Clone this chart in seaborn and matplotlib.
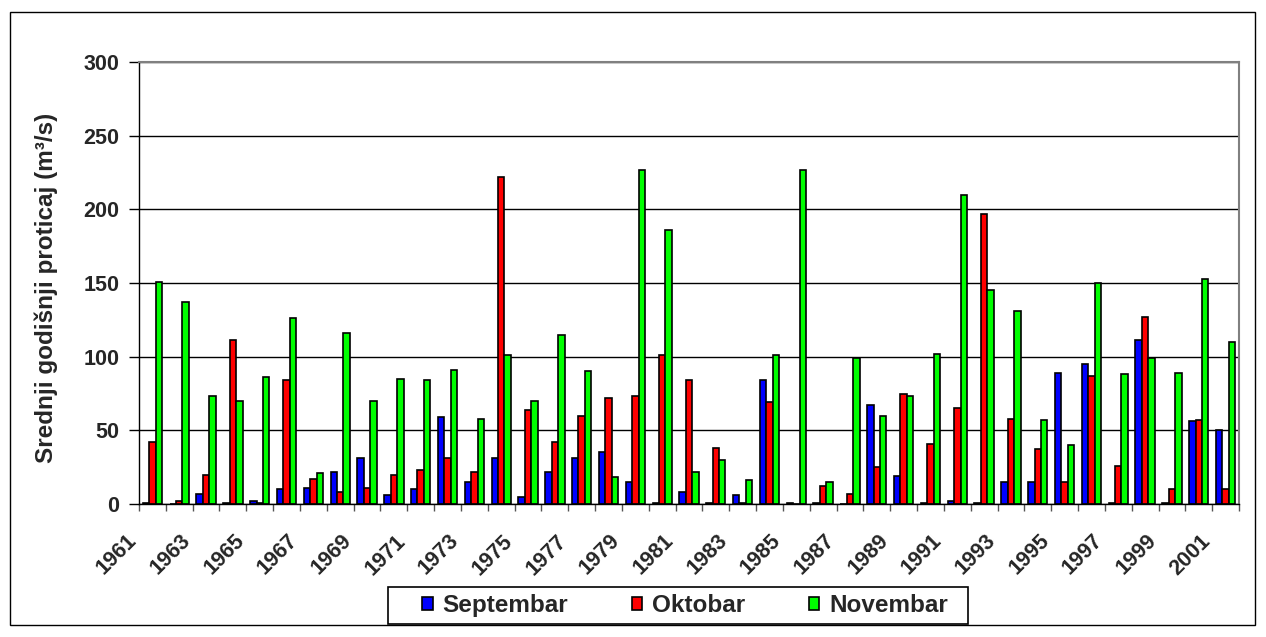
import numpy as np
import pandas as pd
import matplotlib
matplotlib.use('Agg')
import matplotlib.pyplot as plt
import seaborn as sns
from matplotlib.patches import Rectangle
from matplotlib.transforms import ScaledTranslation


years = list(range(1961, 2002))
septembar = [1, 0, 7, 1, 2, 10, 11, 22, 31, 6,
             10, 59, 15, 31, 5, 22, 31, 35, 15, 1,
             8, 1, 6, 84, 1, 1, 0, 67, 19, 1,
             2, 1, 15, 15, 89, 95, 1, 111, 1, 56,
             50]
oktobar = [42, 2, 20, 111, 1, 84, 17, 8, 11, 20,
           23, 31, 22, 222, 64, 42, 60, 72, 73, 101,
           84, 38, 1, 69, 0, 12, 7, 25, 75, 41,
           65, 197, 58, 37, 15, 87, 26, 127, 10, 57,
           10]
novembar = [151, 137, 73, 70, 86, 126, 21, 116, 70, 85,
            84, 91, 58, 101, 70, 115, 90, 18, 227, 186,
            22, 30, 16, 101, 227, 15, 99, 60, 73, 102,
            210, 145, 131, 57, 40, 150, 88, 99, 89, 153,
            110]
months = ['Septembar', 'Oktobar', 'Novembar']
colors = ['#0000FF', '#FF0000', '#00FF00']

sns.set_theme(style='white')
plt.rcParams['font.family'] = ['Liberation Sans', 'DejaVu Sans']
plt.rcParams['font.weight'] = 'bold'

W, H = 1266, 637

df = pd.DataFrame({
    'year': [str(y) for y in years] * 3,
    'month': np.repeat(months, len(years)),
    'value': septembar + oktobar + novembar,
})

fig = plt.figure(figsize=(W / 100, H / 100), dpi=100)
left, right, top, bottom = 139, 1239, 62, 504
ax = fig.add_axes([left / W, 1 - bottom / H, (right - left) / W, (bottom - top) / H])

sns.barplot(data=df, x='year', y='value', hue='month', hue_order=months,
            palette=colors, edgecolor='black', linewidth=1.2, width=0.72,
            saturation=1, ax=ax)

handles, labels = ax.get_legend_handles_labels()
if ax.legend_ is not None:
    ax.legend_.remove()

ax.set_xlim(-0.5, len(years) - 0.5)
ax.set_ylim(0, 300)
ax.set_yticks(range(0, 301, 50))
ax.yaxis.grid(True, color='black', linewidth=1)
ax.set_axisbelow(True)

ax.set_xticks(np.arange(-0.5, len(years), 1), minor=True)
ax.tick_params(axis='x', which='major', length=0, pad=19)
ax.tick_params(axis='x', which='minor', length=5, width=1, color='#555555', direction='out', bottom=True)
ax.tick_params(axis='y', length=7, width=1, color='black', direction='out', left=True,
               labelsize=15.5, pad=7)
for lab in ax.get_yticklabels():
    lab.set_fontweight('bold')

ax.set_xticks(range(0, len(years), 2))
ax.set_xticklabels([str(y) for y in years[::2]], rotation=45, ha='right', va='top',
                   rotation_mode='anchor', fontsize=15.5, fontweight='bold')

ax.set_xlabel('')
ax.set_ylabel('Srednji godišnji proticaj (m³/s)', fontsize=17.5, fontweight='bold')
ax.yaxis.set_label_coords((58 - left) / (right - left), 0.49)

for side in ['top', 'right']:
    ax.spines[side].set_color('#808080')
    ax.spines[side].set_linewidth(1.5)
for side in ['left', 'bottom']:
    ax.spines[side].set_color('black')
    ax.spines[side].set_linewidth(1)

# chart area border
fig.patches.append(Rectangle((10 / W, 12 / H), 1245 / W, 613 / H,
                             transform=fig.transFigure, fill=False,
                             edgecolor='black', linewidth=1))

# legend box
fig.patches.append(Rectangle((388 / W, 1 - 624 / H), 580 / W, 37 / H,
                             transform=fig.transFigure, fill=False,
                             edgecolor='black', linewidth=1.2))
leg = fig.legend(handles, labels, loc='center', bbox_to_anchor=(685 / W, 1 - 605.5 / H),
                 ncol=3, frameon=False, prop={'weight': 'bold', 'size': 17.5},
                 handlelength=0.45, handleheight=0.45, handletextpad=0.4,
                 columnspacing=2.6, borderpad=0.1)

# move year labels left so their ends sit just left of the category centre
shift = ScaledTranslation(-26 / 100, 0, fig.dpi_scale_trans)
for tick in ax.xaxis.get_major_ticks():
    tick.label1.set_transform(tick.label1.get_transform() + shift)

fig.savefig('out.png', dpi=100)
